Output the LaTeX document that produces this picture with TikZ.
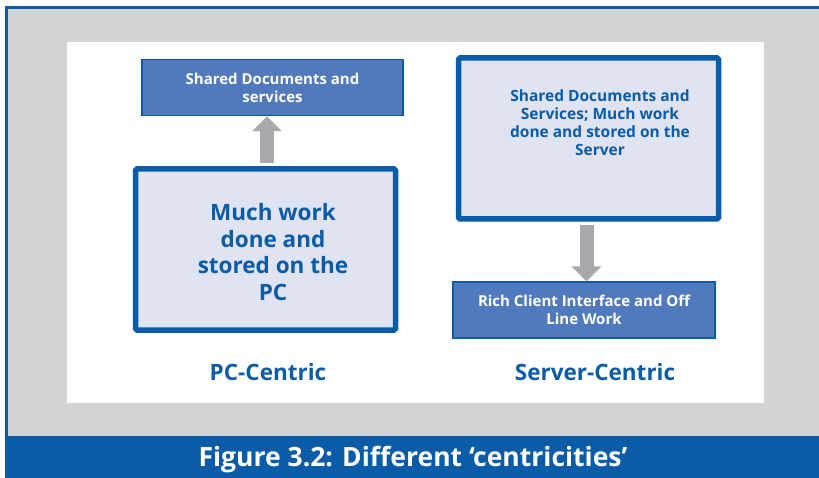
\documentclass[tikz,border=0pt]{standalone}
\usepackage{fontspec}
\setmainfont{Open Sans}
\usepackage{tikz}
\usetikzlibrary{positioning,arrows.meta}
\usepackage{xcolor}

\definecolor{frameblue}{HTML}{0A5CA8}
\definecolor{boxblue}{HTML}{5179BD}
\definecolor{paleblue}{HTML}{DFE3F2}
\definecolor{panelgray}{HTML}{D1D3D4}
\definecolor{arrowgray}{HTML}{A7A9AC}

\tikzset{
  smallbox/.style={draw=frameblue,line width=1.2pt,fill=boxblue,text=white,font=\bfseries\fontsize{15}{17.5}\selectfont,minimum width=261pt,minimum height=56pt,align=center},
  bigbox/.style={draw=frameblue,line width=5.5pt,fill=paleblue,rounded corners=1.5pt,minimum width=260pt,minimum height=161pt},
  boxtext/.style={text=frameblue,font=\bfseries,align=center},
  sidelabel/.style={text=frameblue,font=\bfseries\fontsize{22.5}{27}\selectfont},
  fatarrow/.style={arrowgray,line width=14pt,-{Triangle[width=29pt,length=15pt]}}
}

\begin{document}
\begin{tikzpicture}[x=1pt,y=-1pt,node distance=50pt]
\useasboundingbox (0,0) rectangle (819,478);
% frame and background
\fill[frameblue] (5,6) rectangle (819,478);
\fill[panelgray] (8,9) rectangle (819,436);
\fill[white] (67,42) rectangle (764,403);

% PC-centric side
\node[bigbox] (pcbox) at (265.5,249.5) {};
\node[boxtext,font=\bfseries\fontsize{22.5}{26.7}\selectfont] (pctext) at (273,252) {Much work\\done and\\stored on the\\PC};
\node[smallbox,above=of pcbox,xshift=7pt] (pcshared) {Shared Documents and\\services};
\node[sidelabel] (pclabel) at (268,372) {PC-Centric};

% server-centric side
\node[bigbox] (srvbox) at (588.5,138.5) {};
\node[boxtext,font=\bfseries\fontsize{15.5}{18}\selectfont] (srvtext) at (600,123) {Shared Documents and\\Services; Much work\\done and stored on the\\Server};
\node[smallbox,minimum width=262pt,font=\bfseries\fontsize{15}{18}\selectfont] (client) at (584,310) {Rich Client Interface and Off\\Line Work};
\node[sidelabel] (srvlabel) at (595,372) {Server-Centric};

% connectors
\draw[fatarrow] (pcbox.north) ++(1.5,-3) coordinate (pcstart) -- (pcstart |- pcshared.south);
\draw[fatarrow] ([xshift=-2pt]srvbox.south) ++(0,3) coordinate (srvstart) -- (srvstart |- client.north);

% caption
\node[text=white,font=\bfseries\fontsize{26.5}{30}\selectfont] (caption) at (413,460) {Figure 3.2: Different ‘centricities’};
\end{tikzpicture}
\end{document}
